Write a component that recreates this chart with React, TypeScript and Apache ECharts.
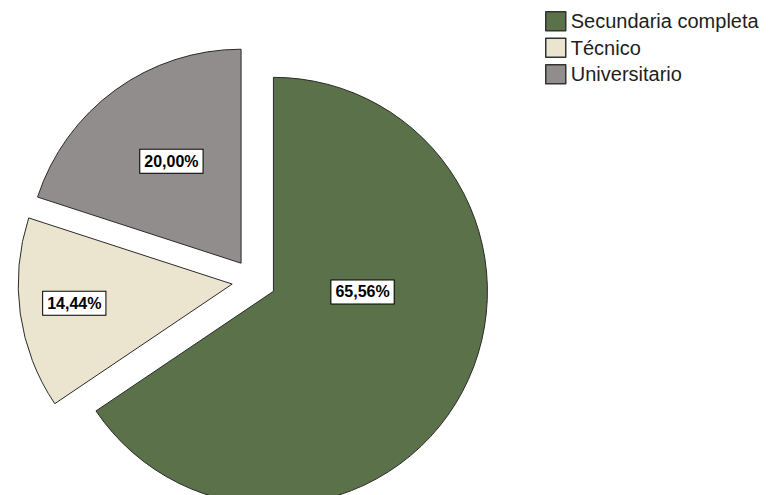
import { useEffect, useRef } from "react";
import * as echarts from "echarts";

const categories = ["Secundaria completa", "Técnico", "Universitario"];
const percentages = [65.56, 14.44, 20.0];

const sliceColors = ["#5b7149", "#ebe5d0", "#918d8d"];
const labelNudge: [number, number][] = [
  [-8, -51],
  [-49, 4],
  [-5, -13],
];

export default function App() {
  const ref = useRef<HTMLDivElement>(null);
  useEffect(() => {
    const chart = echarts.init(ref.current!, null, { renderer: "svg" });
    chart.setOption({
      animation: false,
      backgroundColor: "#ffffff",
      legend: {
        orient: "vertical",
        left: 545,
        top: 11,
        padding: 0,
        itemWidth: 20,
        itemHeight: 19,
        itemGap: 6,
        icon: "rect",
        selectedMode: false,
        itemStyle: { borderColor: "#333333", borderWidth: 1.5 },
        textStyle: {
          fontFamily: "Liberation Sans",
          fontSize: 20,
          lineHeight: 19,
          color: "#1e1e1e",
          padding: [0, 0, 0, 0],
        },
        data: categories,
      },
      series: [
        {
          type: "pie",
          center: [254, 281],
          radius: 214,
          startAngle: 90,
          clockwise: true,
          selectedMode: "multiple",
          selectedOffset: 22,
          avoidLabelOverlap: false,
          emphasis: { disabled: true },
          itemStyle: { borderColor: "#2a2a2a", borderWidth: 1 },
          data: categories.map((name, i) => ({
            name,
            value: percentages[i],
            selected: true,
            itemStyle: { color: sliceColors[i] },
          })),
          label: {
            show: true,
            position: "inside",
            formatter: (p: any) => p.value.toFixed(2).replace(".", ",") + "%",
            fontFamily: "Liberation Sans",
            fontWeight: "bold",
            fontSize: 16,
            color: "#000000",
            backgroundColor: "#ffffff",
            borderColor: "#000000",
            borderWidth: 1,
            padding: [4, 4, 3, 4],
          },
          labelLine: { show: false },
          labelLayout: (p: any) => ({
            dx: labelNudge[p.dataIndex][0],
            dy: labelNudge[p.dataIndex][1],
          }),
        },
      ],
    });
    return () => chart.dispose();
  }, []);
  return (
    <div
      ref={ref}
      style={{ position: "absolute", left: 0, top: 0, width: 770, height: 495 }}
    />
  );
}
